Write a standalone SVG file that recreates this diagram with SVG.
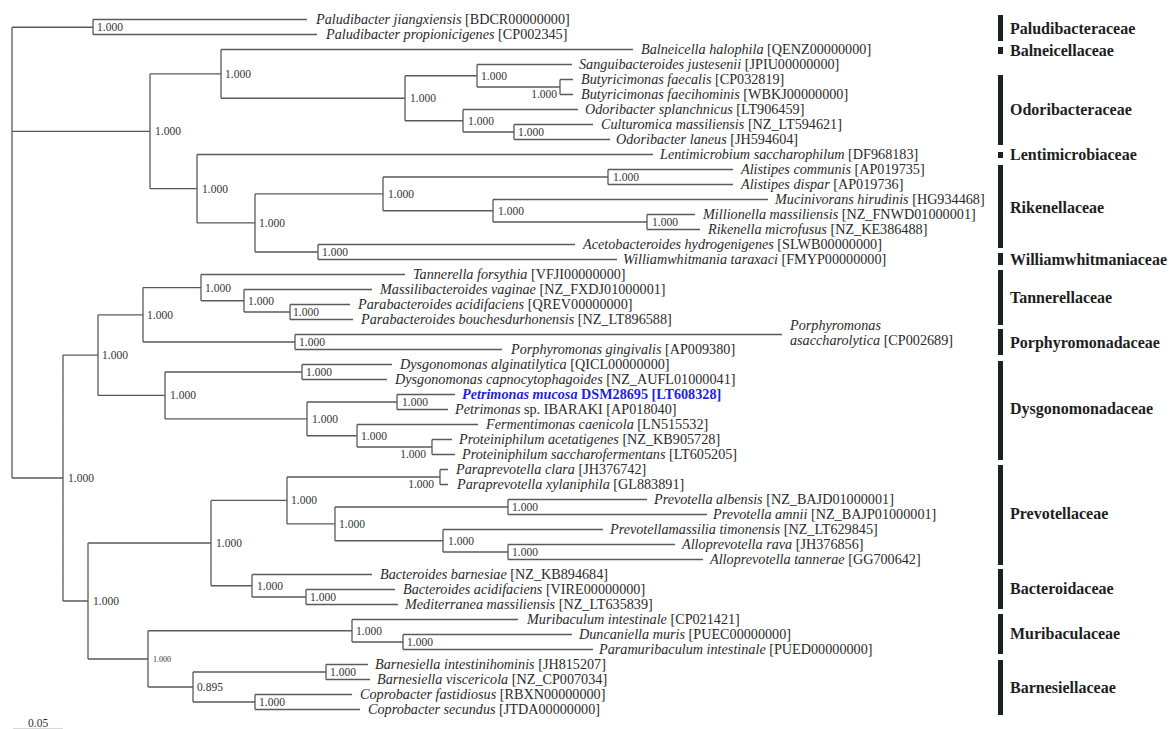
<svg xmlns="http://www.w3.org/2000/svg" width="1169" height="729" viewBox="0 0 1169 729">
<style>
.br{fill:none;stroke:#5a5a5a;stroke-width:1.3}
.lf{font-family:"Liberation Serif","Times New Roman",serif;font-size:14.2px;fill:#2a2a2a}
.it{font-style:italic}
.bs{font-family:"Liberation Serif","Times New Roman",serif;font-size:11.5px;fill:#333}
.bse{font-family:"Liberation Serif","Times New Roman",serif;font-size:11.5px;fill:#333;text-anchor:end}
.fam{font-family:"Liberation Serif","Times New Roman",serif;font-size:16px;font-weight:bold;fill:#1e1e1e}
.bar{fill:#1b241b}
</style>
<rect width="1169" height="729" fill="#fff"/>
<g id="connectors">
<path class="br" d="M12,27.25V478 M12,27.25H93 M12,131.3H150 M12,478H63
M93,19.5V34.5 M93,19.5H307 M93,34.5H317
M150,73.9V188.7 M150,73.9H221 M150,188.7H197
M221,49.5V98.25 M221,49.5H633 M221,98.25H405
M405,75.75V120.75 M405,75.75H477 M405,120.75H463
M477,64.5V87 M477,64.5H572 M477,87H560
M560,79.5V94.5 M560,79.5H573 M560,94.5H573
M463,109.5V132 M463,109.5H578 M463,132H514
M514,124.5V139.5 M514,124.5H593 M514,139.5H610
M197,154.5V222.9 M197,154.5H653 M197,222.9H255
M255,193.9V252 M255,193.9H383 M255,252H318
M383,177V210.75 M383,177H608 M383,210.75H493
M608,169.5V184.5 M608,169.5H733 M608,184.5H733
M493,199.5V222 M493,199.5H768 M493,222H647
M647,214.5V229.5 M647,214.5H695 M647,229.5H700
M318,244.5V259.5 M318,244.5H575 M318,259.5H617
M63,355.1V601 M63,355.1H98 M63,601H88
M98,314.8V395.4 M98,314.8H143 M98,395.4H165
M143,287.6V342 M143,287.6H201 M143,342H295
M201,274.5V300.75 M201,274.5H405 M201,300.75H244
M244,289.5V312 M244,289.5H372 M244,312H290
M290,304.5V319.5 M290,304.5H350 M290,319.5H353
M295,334.5V349.5 M295,334.5H782 M295,349.5H502
M165,372V418.9 M165,372H302 M165,418.9H307
M302,364.5V379.5 M302,364.5H392 M302,379.5H387
M307,402V435.75 M307,402H397 M307,435.75H357
M397,394.5V409.5 M397,394.5H455 M397,409.5H448
M357,424.5V447 M357,424.5H478 M357,447H432
M432,439.5V454.5 M432,439.5H452 M432,454.5H455
M88,543V659 M88,543H211 M88,659H148
M211,500.4V585.75 M211,500.4H287 M211,585.75H252
M287,477V523.9 M287,477H440 M287,523.9H335
M440,469.5V484.5 M440,469.5H448 M440,484.5H448
M335,507V540.75 M335,507H508 M335,540.75H443
M508,499.5V514.5 M508,499.5H647 M508,514.5H707
M443,529.5V552 M443,529.5H603 M443,552H508
M508,544.5V559.5 M508,544.5H675 M508,559.5H703
M252,574.5V597 M252,574.5H372 M252,597H306
M306,589.5V604.5 M306,589.5H395 M306,604.5H398
M148,630.75V687 M148,630.75H352 M148,687H193
M352,619.5V642 M352,619.5H518 M352,642H403
M403,634.5V649.5 M403,634.5H572 M403,649.5H593
M193,672V702 M193,672H326 M193,702H255
M326,664.5V679.5 M326,664.5H368 M326,679.5H370
M255,694.5V709.5 M255,694.5H352 M255,709.5H360"/>
<path d="M13,728.5H63" stroke="#d8d8d8" stroke-width="1"/>
</g>
<g id="support">
<text class="bs" x="97" y="31.3">1.000</text>
<text class="bs" x="225" y="78">1.000</text>
<text class="bs" x="155" y="135.3">1.000</text>
<text class="bs" x="481" y="79.8">1.000</text>
<text class="bse" x="557" y="97.5">1.000</text>
<text class="bs" x="410" y="102.3">1.000</text>
<text class="bs" x="468" y="124.8">1.000</text>
<text class="bs" x="518" y="136">1.000</text>
<text class="bs" x="202" y="192.7">1.000</text>
<text class="bs" x="259" y="227">1.000</text>
<text class="bs" x="388" y="198">1.000</text>
<text class="bs" x="613" y="181">1.000</text>
<text class="bs" x="498" y="214.8">1.000</text>
<text class="bs" x="652" y="226">1.000</text>
<text class="bs" x="322" y="256">1.000</text>
<text class="bs" x="68" y="482">1.000</text>
<text class="bs" x="102" y="359">1.000</text>
<text class="bs" x="147" y="319">1.000</text>
<text class="bs" x="205" y="291.6">1.000</text>
<text class="bs" x="248" y="304.8">1.000</text>
<text class="bs" x="293" y="316">1.000</text>
<text class="bs" x="299" y="346">1.000</text>
<text class="bs" x="170" y="399.4">1.000</text>
<text class="bs" x="306" y="376">1.000</text>
<text class="bs" x="312" y="423">1.000</text>
<text class="bs" x="402" y="406">1.000</text>
<text class="bs" x="361" y="439.8">1.000</text>
<text class="bse" x="426" y="457.5">1.000</text>
<text class="bse" x="434" y="487.5">1.000</text>
<text class="bs" x="93" y="605">1.000</text>
<text class="bs" x="216" y="547">1.000</text>
<text class="bs" x="291" y="504.4">1.000</text>
<text class="bs" x="339" y="528">1.000</text>
<text class="bs" x="512" y="511">1.000</text>
<text class="bs" x="448" y="544.8">1.000</text>
<text class="bs" x="512" y="556">1.000</text>
<text class="bs" x="257" y="589.8">1.000</text>
<text class="bs" x="310" y="601">1.000</text>
<text class="bs" x="153" y="662" style="font-size:8px">1.000</text>
<text class="bs" x="356" y="634.8">1.000</text>
<text class="bs" x="407" y="646">1.000</text>
<text class="bs" x="197" y="691">0.895</text>
<text class="bs" x="330" y="676">1.000</text>
<text class="bs" x="259" y="706">1.000</text>
<text class="bs" x="28" y="727">0.05</text>
</g>
<g id="leaf1"><text class="lf" x="316" y="24.2"><tspan class="it">Paludibacter jiangxiensis</tspan> [BDCR00000000]</text></g>
<g id="leaf2"><text class="lf" x="326" y="39.2"><tspan class="it">Paludibacter propionicigenes</tspan> [CP002345]</text></g>
<g id="leaf3"><text class="lf" x="641" y="54.2"><tspan class="it">Balneicella halophila</tspan> [QENZ00000000]</text></g>
<g id="leaf4"><text class="lf" x="579" y="69.2"><tspan class="it">Sanguibacteroides justesenii</tspan> [JPIU00000000]</text></g>
<g id="leaf5"><text class="lf" x="581" y="84.2"><tspan class="it">Butyricimonas faecalis</tspan> [CP032819]</text></g>
<g id="leaf6"><text class="lf" x="581" y="99.2"><tspan class="it">Butyricimonas faecihominis</tspan> [WBKJ00000000]</text></g>
<g id="leaf7"><text class="lf" x="585" y="114.2"><tspan class="it">Odoribacter splanchnicus</tspan> [LT906459]</text></g>
<g id="leaf8"><text class="lf" x="601" y="129.2"><tspan class="it">Culturomica massiliensis</tspan> [NZ_LT594621]</text></g>
<g id="leaf9"><text class="lf" x="616" y="144.2"><tspan class="it">Odoribacter laneus</tspan> [JH594604]</text></g>
<g id="leaf10"><text class="lf" x="660" y="159.2"><tspan class="it">Lentimicrobium saccharophilum</tspan> [DF968183]</text></g>
<g id="leaf11"><text class="lf" x="741" y="174.2"><tspan class="it">Alistipes communis</tspan> [AP019735]</text></g>
<g id="leaf12"><text class="lf" x="741" y="189.2"><tspan class="it">Alistipes dispar</tspan> [AP019736]</text></g>
<g id="leaf13"><text class="lf" x="775" y="204.2"><tspan class="it">Mucinivorans hirudinis</tspan> [HG934468]</text></g>
<g id="leaf14"><text class="lf" x="703" y="219.2"><tspan class="it">Millionella massiliensis</tspan> [NZ_FNWD01000001]</text></g>
<g id="leaf15"><text class="lf" x="708" y="234.2"><tspan class="it">Rikenella microfusus</tspan> [NZ_KE386488]</text></g>
<g id="leaf16"><text class="lf" x="583" y="249.2"><tspan class="it">Acetobacteroides hydrogenigenes</tspan> [SLWB00000000]</text></g>
<g id="leaf17"><text class="lf" x="623" y="264.2"><tspan class="it">Williamwhitmania taraxaci</tspan> [FMYP00000000]</text></g>
<g id="leaf18"><text class="lf" x="413" y="279.2"><tspan class="it">Tannerella forsythia</tspan> [VFJI00000000]</text></g>
<g id="leaf19"><text class="lf" x="380" y="294.2"><tspan class="it">Massilibacteroides vaginae</tspan> [NZ_FXDJ01000001]</text></g>
<g id="leaf20"><text class="lf" x="358" y="309.2"><tspan class="it">Parabacteroides acidifaciens</tspan> [QREV00000000]</text></g>
<g id="leaf21"><text class="lf" x="361" y="324.2"><tspan class="it">Parabacteroides bouchesdurhonensis</tspan> [NZ_LT896588]</text></g>
<g id="leaf22"><text class="lf" x="790" y="330"><tspan class="it">Porphyromonas</tspan></text><text class="lf" x="790" y="345"><tspan class="it">asaccharolytica</tspan> [CP002689]</text></g>
<g id="leaf23"><text class="lf" x="511" y="354.2"><tspan class="it">Porphyromonas gingivalis</tspan> [AP009380]</text></g>
<g id="leaf24"><text class="lf" x="400" y="369.2"><tspan class="it">Dysgonomonas alginatilytica</tspan> [QICL00000000]</text></g>
<g id="leaf25"><text class="lf" x="395" y="384.2"><tspan class="it">Dysgonomonas capnocytophagoides</tspan> [NZ_AUFL01000041]</text></g>
<g id="leaf26"><text class="lf" x="462" y="399.2" style="fill:#1f1fe0;font-weight:bold"><tspan class="it">Petrimonas mucosa</tspan> DSM28695 [LT608328]</text></g>
<g id="leaf27"><text class="lf" x="455" y="414.2"><tspan class="it">Petrimonas</tspan> sp. IBARAKI [AP018040]</text></g>
<g id="leaf28"><text class="lf" x="486" y="429.2"><tspan class="it">Fermentimonas caenicola</tspan> [LN515532]</text></g>
<g id="leaf29"><text class="lf" x="459" y="444.2"><tspan class="it">Proteiniphilum acetatigenes</tspan> [NZ_KB905728]</text></g>
<g id="leaf30"><text class="lf" x="462" y="459.2"><tspan class="it">Proteiniphilum saccharofermentans</tspan> [LT605205]</text></g>
<g id="leaf31"><text class="lf" x="456" y="474.2"><tspan class="it">Paraprevotella clara</tspan> [JH376742]</text></g>
<g id="leaf32"><text class="lf" x="457" y="489.2"><tspan class="it">Paraprevotella xylaniphila</tspan> [GL883891]</text></g>
<g id="leaf33"><text class="lf" x="654" y="504.2"><tspan class="it">Prevotella albensis</tspan> [NZ_BAJD01000001]</text></g>
<g id="leaf34"><text class="lf" x="713" y="519.2"><tspan class="it">Prevotella amnii</tspan> [NZ_BAJP01000001]</text></g>
<g id="leaf35"><text class="lf" x="610" y="534.2"><tspan class="it">Prevotellamassilia timonensis</tspan> [NZ_LT629845]</text></g>
<g id="leaf36"><text class="lf" x="682" y="549.2"><tspan class="it">Alloprevotella rava</tspan> [JH376856]</text></g>
<g id="leaf37"><text class="lf" x="710" y="564.2"><tspan class="it">Alloprevotella tannerae</tspan> [GG700642]</text></g>
<g id="leaf38"><text class="lf" x="380" y="579.2"><tspan class="it">Bacteroides barnesiae</tspan> [NZ_KB894684]</text></g>
<g id="leaf39"><text class="lf" x="403" y="594.2"><tspan class="it">Bacteroides acidifaciens</tspan> [VIRE00000000]</text></g>
<g id="leaf40"><text class="lf" x="405" y="609.2"><tspan class="it">Mediterranea massiliensis</tspan> [NZ_LT635839]</text></g>
<g id="leaf41"><text class="lf" x="527" y="624.2"><tspan class="it">Muribaculum intestinale</tspan> [CP021421]</text></g>
<g id="leaf42"><text class="lf" x="579" y="639.2"><tspan class="it">Duncaniella muris</tspan> [PUEC00000000]</text></g>
<g id="leaf43"><text class="lf" x="599" y="654.2"><tspan class="it">Paramuribaculum intestinale</tspan> [PUED00000000]</text></g>
<g id="leaf44"><text class="lf" x="375" y="669.2"><tspan class="it">Barnesiella intestinihominis</tspan> [JH815207]</text></g>
<g id="leaf45"><text class="lf" x="377" y="684.2"><tspan class="it">Barnesiella viscericola</tspan> [NZ_CP007034]</text></g>
<g id="leaf46"><text class="lf" x="360" y="699.2"><tspan class="it">Coprobacter fastidiosus</tspan> [RBXN00000000]</text></g>
<g id="leaf47"><text class="lf" x="368" y="714.2"><tspan class="it">Coprobacter secundus</tspan> [JTDA00000000]</text></g>
<g id="fam-paludibacteraceae"><rect class="bar" x="998" y="15" width="5" height="26"/><text class="fam" x="1010" y="33.5">Paludibacteraceae</text></g>
<g id="fam-balneicellaceae"><rect class="bar" x="998" y="47" width="5" height="7"/><text class="fam" x="1010" y="55.5">Balneicellaceae</text></g>
<g id="fam-odoribacteraceae"><rect class="bar" x="998" y="75" width="5" height="70"/><text class="fam" x="1010" y="114.5">Odoribacteraceae</text></g>
<g id="fam-lentimicrobiaceae"><rect class="bar" x="998" y="152" width="5" height="6"/><text class="fam" x="1010" y="159.5">Lentimicrobiaceae</text></g>
<g id="fam-rikenellaceae"><rect class="bar" x="998" y="165" width="5" height="83"/><text class="fam" x="1010" y="212.5">Rikenellaceae</text></g>
<g id="fam-williamwhitmaniaceae"><rect class="bar" x="998" y="253" width="5" height="12"/><text class="fam" x="1010" y="264.5">Williamwhitmaniaceae</text></g>
<g id="fam-tannerellaceae"><rect class="bar" x="998" y="270" width="5" height="55"/><text class="fam" x="1010" y="302.5">Tannerellaceae</text></g>
<g id="fam-porphyromonadaceae"><rect class="bar" x="998" y="329" width="5" height="26"/><text class="fam" x="1010" y="347.5">Porphyromonadaceae</text></g>
<g id="fam-dysgonomonadaceae"><rect class="bar" x="998" y="361" width="5" height="99"/><text class="fam" x="1010" y="413.5">Dysgonomonadaceae</text></g>
<g id="fam-prevotellaceae"><rect class="bar" x="998" y="465" width="5" height="100"/><text class="fam" x="1010" y="518.5">Prevotellaceae</text></g>
<g id="fam-bacteroidaceae"><rect class="bar" x="998" y="569" width="5" height="40"/><text class="fam" x="1010" y="593.5">Bacteroidaceae</text></g>
<g id="fam-muribaculaceae"><rect class="bar" x="998" y="614" width="5" height="40"/><text class="fam" x="1010" y="638.5">Muribaculaceae</text></g>
<g id="fam-barnesiellaceae"><rect class="bar" x="998" y="660" width="5" height="55"/><text class="fam" x="1010" y="692.5">Barnesiellaceae</text></g>
</svg>
